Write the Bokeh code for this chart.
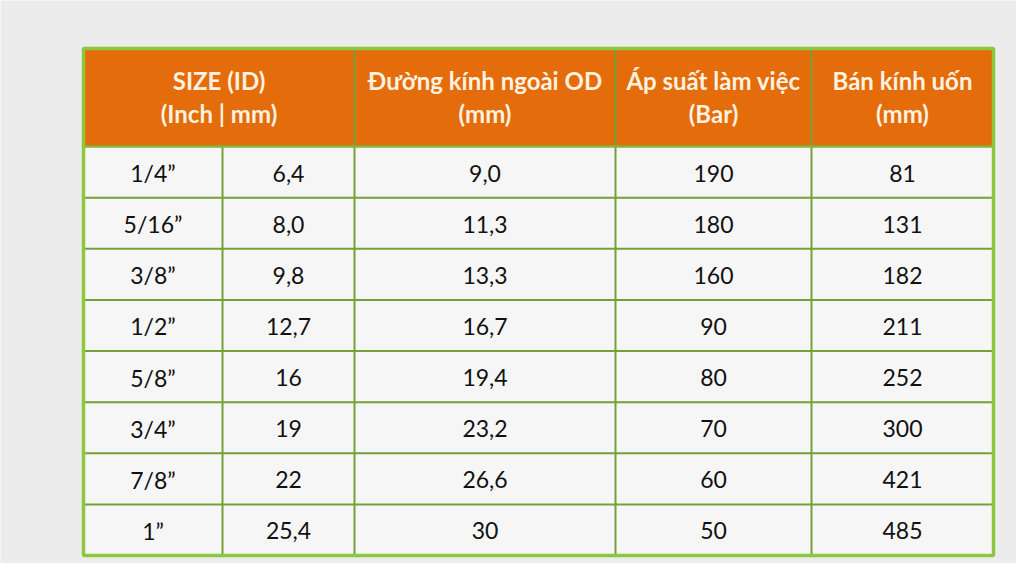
from bokeh.plotting import figure
from bokeh.models import ColumnDataSource, Range1d
from bokeh.core.properties import value
from bokeh.embed import file_html
from bokeh.resources import INLINE

# ---- data ----
headers = ["SIZE (ID)\n(Inch | mm)", "Đường kính ngoài OD\n(mm)", "Áp suất làm việc\n(Bar)", "Bán kính uốn\n(mm)"]
size_inch = ["1/4”", "5/16”", "3/8”", "1/2”", "5/8”", "3/4”", "7/8”", "1”"]
size_mm = ["6,4", "8,0", "9,8", "12,7", "16", "19", "22", "25,4"]
outer_d = ["9,0", "11,3", "13,3", "16,7", "19,4", "23,2", "26,6", "30"]
pressure = ["190", "180", "160", "90", "80", "70", "60", "50"]
bend_r = ["81", "131", "182", "211", "252", "300", "421", "485"]

# ---- layout (pixel coordinates) ----
col_edges = [83, 222, 354, 615, 811, 993]
top, head_bot, bottom = 48, 146, 555
n = len(size_inch)
row_h = (bottom - head_bot) / n

ORANGE = "#e46c0a"
GREEN = "#8dc63f"
INNER = "#76a035"
CELL = "#f6f6f6"
BG = "#ececec"
FONT = "Lato"

W, H = 1016, 563
p = figure(width=W, height=H, output_backend="svg", toolbar_location=None,
           x_range=Range1d(0, W), y_range=Range1d(H, 0),
           min_border=0, border_fill_color=BG, background_fill_color=BG,
           outline_line_color=None)
p.axis.visible = False
p.grid.visible = False

# body fill
p.quad(left=[col_edges[0]], right=[col_edges[-1]], top=[head_bot], bottom=[bottom],
       fill_color=CELL, line_color=None)
# header fill
p.quad(left=[col_edges[0]], right=[col_edges[-1]], top=[top], bottom=[head_bot],
       fill_color=ORANGE, line_color=None)

# inner lines
xs, ys = [], []
for i in range(1, n):
    y = head_bot + i * row_h
    xs.append([col_edges[0], col_edges[-1]]); ys.append([y, y])
for j, x in enumerate(col_edges[1:-1], start=1):
    y0 = head_bot if j == 1 else top
    xs.append([x, x]); ys.append([y0, bottom])
p.multi_line(xs, ys, line_color=INNER, line_width=2)
# header/body separator
p.line([col_edges[0], col_edges[-1]], [head_bot, head_bot], line_color="#86b43a", line_width=2.5)
# outer border
p.quad(left=[col_edges[0]], right=[col_edges[-1]], top=[top], bottom=[bottom],
       fill_color=None, line_color=GREEN, line_width=3.5)

# header text
hx = [(col_edges[0] + col_edges[2]) / 2,
      (col_edges[2] + col_edges[3]) / 2,
      (col_edges[3] + col_edges[4]) / 2,
      (col_edges[4] + col_edges[5]) / 2]
l1 = [h.split("\n")[0] for h in headers]
l2 = [h.split("\n")[1] for h in headers]
p.text(x=hx, y=[80] * 4, text=l1, text_align="center", text_baseline="middle",
       text_color="#fdf1e0", text_font=value(FONT), text_font_style="bold",
       text_font_size="24px")
p.text(x=hx, y=[113] * 4, text=l2, text_align="center", text_baseline="middle",
       text_color="#fdf1e0", text_font=value(FONT), text_font_style="bold",
       text_font_size="24px")

# body text
cols = [size_inch, size_mm, outer_d, pressure, bend_r]
for c, vals in enumerate(cols):
    cx = (col_edges[c] + col_edges[c + 1]) / 2
    ys_ = [head_bot + (i + 0.5) * row_h + 1 for i in range(n)]
    src = ColumnDataSource(dict(x=[cx] * n, y=ys_, t=vals))
    p.text(x="x", y="y", text="t", source=src, text_align="center",
           text_baseline="middle", text_color="#111111",
           text_font=value(FONT), text_font_size="23px")

open("out.html", "w").write(file_html(p, INLINE))
